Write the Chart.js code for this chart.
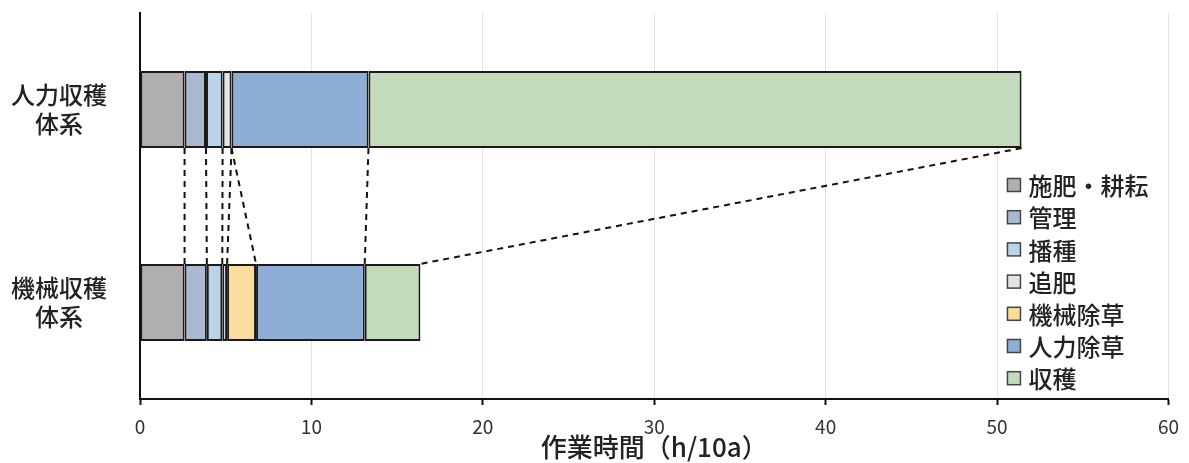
<!DOCTYPE html>
<html>
<head>
<meta charset="utf-8">
<script src="https://cdn.jsdelivr.net/npm/chart.js@4/dist/chart.umd.min.js"></script>
<style>
  body { margin: 0; background: #fff; }
  #wrap { width: 1189px; height: 463px; }
</style>
</head>
<body>
<div id="wrap"><canvas id="workChart"></canvas></div>
<script>
// categories (two-line labels)
const systems = [['人力収穫', '体系'], ['機械収穫', '体系']];

// work hours per task (h/10a): [人力収穫体系, 機械収穫体系]
const fertTill   = [2.6, 2.6];
const management = [1.25, 1.3];
const sowing     = [0.97, 0.9];
const topDress   = [0.52, 0.28];
const machWeed   = [0, 1.69];
const handWeed   = [7.99, 6.34];
const harvest    = [38.1, 3.25];

const taskNames  = ['施肥・耕耘', '管理', '播種', '追肥', '機械除草', '人力除草', '収穫'];
const taskColors = ['#b1aeb1', '#a9b9cf', '#bcd4e9', '#e6e2e2', '#f9dc9e', '#8eaed6', '#c3dbbb'];
const xTicks = [0, 10, 20, 30, 40, 50, 60];

const FONT = '"Noto Sans CJK JP", "Noto Sans", sans-serif';

const series = [fertTill, management, sowing, topDress, machWeed, handWeed, harvest];

// dashed connectors between the two bars
const connectorLines = {
  id: 'connectorLines',
  afterDatasetsDraw(chart) {
    const ctx = chart.ctx;
    ctx.save();
    ctx.strokeStyle = '#111';
    ctx.lineWidth = 2;
    ctx.setLineDash([6, 5]);
    chart.data.datasets.forEach((ds, i) => {
      const meta = chart.getDatasetMeta(i);
      const upper = meta.data[0], lower = meta.data[1];
      ctx.beginPath();
      ctx.moveTo(upper.x, upper.y + upper.height / 2);
      ctx.lineTo(lower.x, lower.y - lower.height / 2);
      ctx.stroke();
    });
    ctx.restore();
  }
};

// legend drawn inside the plot area, right side
const innerLegend = {
  id: 'innerLegend',
  afterDraw(chart) {
    const ctx = chart.ctx;
    const area = chart.chartArea;
    const x0 = area.right - 161;
    const y0 = 185;
    const step = 32.2;
    ctx.save();
    ctx.font = '500 24px ' + FONT;
    ctx.textBaseline = 'middle';
    chart.data.datasets.forEach((ds, i) => {
      const y = y0 + i * step;
      ctx.fillStyle = ds.backgroundColor;
      ctx.fillRect(x0, y - 6.5, 13, 13);
      ctx.strokeStyle = '#444';
      ctx.lineWidth = 1.5;
      ctx.strokeRect(x0, y - 6.5, 13, 13);
      ctx.fillStyle = '#222';
      ctx.fillText(ds.label, x0 + 21, y + 1);
    });
    ctx.restore();
  }
};

new Chart(document.getElementById('workChart'), {
  type: 'bar',
  data: {
    labels: systems,
    datasets: series.map((vals, i) => ({
      label: taskNames[i],
      data: vals,
      backgroundColor: taskColors[i],
      borderColor: '#1a1a1a',
      borderWidth: 2,
      borderSkipped: false,
      barPercentage: 0.4,
      categoryPercentage: 1
    }))
  },
  options: {
    indexAxis: 'y',
    responsive: true,
    maintainAspectRatio: false,
    animation: false,
    layout: { padding: { top: 13, right: 17, left: 0, bottom: 0 } },
    plugins: {
      legend: { display: false },
      tooltip: { enabled: false }
    },
    scales: {
      x: {
        stacked: true,
        min: 0,
        max: 60,
        afterBuildTicks: axis => { axis.ticks = xTicks.map(v => ({ value: v })); },
        afterFit: axis => { axis.height = 64; },
        grid: { color: '#e2e2e2', lineWidth: 1, tickLength: 6, tickColor: '#111', tickWidth: 2 },
        border: { color: '#111', width: 2 },
        ticks: { color: '#333', padding: 10, font: { family: FONT, size: 19 } },
        title: {
          display: true,
          text: '作業時間（h/10a）',
          color: '#222',
          padding: { top: 0, bottom: 0 },
          font: { family: FONT, size: 26, weight: '500' }
        }
      },
      y: {
        stacked: true,
        afterFit: axis => {
          axis.width = 140;
          axis.paddingTop = 0;
          axis.paddingBottom = 0;
        },
        grid: { display: false, drawTicks: false },
        border: { color: '#111', width: 2 },
        ticks: {
          color: '#222',
          padding: 33,
          crossAlign: 'center',
          font: { family: FONT, size: 24, weight: '500', lineHeight: 1.2 }
        }
      }
    }
  },
  plugins: [connectorLines, innerLegend]
});
</script>
</body>
</html>
